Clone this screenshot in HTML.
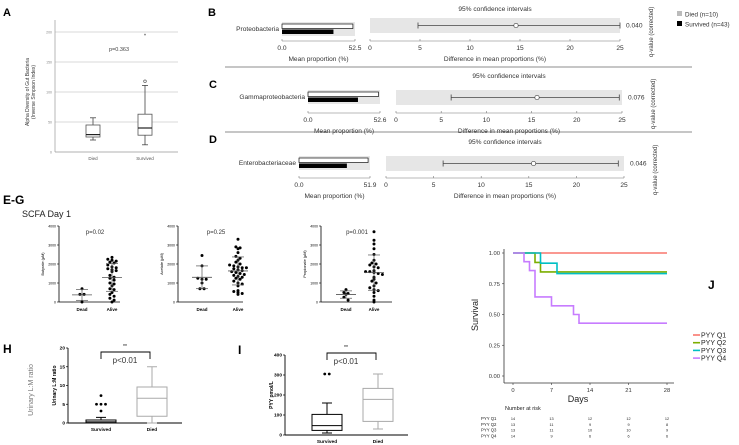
<!DOCTYPE html>
<html><head><meta charset="utf-8"><style>
html,body{margin:0;padding:0;background:#fff}
svg{display:block;font-family:"Liberation Sans",Arial,sans-serif}
</style></head><body>
<svg id="fig" width="739" height="445" viewBox="0 0 739 445" xmlns="http://www.w3.org/2000/svg"></svg>
<script>
// ---------- data ----------
const boxA_groups = ["Died","Survived"];
const boxA_stats = [[20,25,29,45,57],[12,28,40,63,111]];
const boxA_outliers = [[],[118]];
const boxA_extreme = [[],[194]];
const boxA_ticks = [0,50,100,150,200];

const taxa = ["Proteobacteria","Gammaproteobacteria","Enterobacteriaceae"];
const taxaMax = [52.5,52.6,51.9];
const diedMean = [51,51.5,50.5];
const survMean = [37,36.5,35];
const ciLow = [4.8,6.1,6.0];
const ciMid = [14.6,15.6,15.5];
const ciHigh = [25,24.7,24.4];
const qValues = ["0.040","0.076","0.046"];
const ciTicks = [0,5,10,15,20,25];

const butDead = [700,400,400,0];
const butAlive = [2350,2250,2200,2150,2100,2050,1950,1850,1800,1750,1700,1650,1600,1400,1300,1250,1150,1000,950,850,700,650,500,400,300,200,100,0];
const aceDead = [2450,1900,1250,1200,1200,1000,700,700];
const aceAlive = [3300,2900,2850,2800,2600,2400,2300,2200,2100,2000,1950,1900,1850,1800,1800,1750,1700,1650,1600,1550,1500,1450,1400,1350,1300,1250,1200,1100,1000,950,850,600,550,500,450,400];
const proDead = [650,500,450,400,250,100];
const proAlive = [3700,3250,3050,2800,2500,2200,2050,2000,1950,1850,1800,1650,1600,1600,1550,1500,1450,1300,1200,1100,1000,850,750,650,600,500,300,100,0];
const scfaTicks = [0,1000,2000,3000,4000];

const hGroups = ["Survived","Died"];
const hStats = [[0,0,0.3,0.8,1.5],[0,1.8,6.6,9.6,15]];
const hOutliers = [[3.2,5,5,5,7.3],[]];
const hTicks = [0,5,10,15,20];
const iStats = [[10,23,47,103,160],[30,68,178,233,305]];
const iOutliers = [[305,305],[]];
const iTicks = [0,100,200,300,400];

const kmNames = ["PYY Q1","PYY Q2","PYY Q3","PYY Q4"];
const kmColors = ["#F8766D","#7CAE00","#00BFC4","#C77CFF"];
const kmTimes = [[0,28],[0,4,5,28],[0,5,8,28],[0,2,3,4,7,11,12,28]];
const kmSurv = [[1,1],[1,0.923,0.846,0.846],[1,0.917,0.833,0.833],[1,0.929,0.857,0.643,0.571,0.5,0.429,0.429]];
const kmDays = [0,7,14,21,28];
const kmYTicks = [0,0.25,0.5,0.75,1];
const atRisk = [[14,13,12,12,12],[13,11,9,9,8],[13,11,10,10,9],[14,9,6,6,6]];

// ---------- helpers ----------
const svg = document.getElementById('fig');
const NS = "http://www.w3.org/2000/svg";
function el(tag, attrs, parent){const e=document.createElementNS(NS,tag);for(const k in attrs)e.setAttribute(k,attrs[k]);(parent||svg).appendChild(e);return e;}
function txt(x,y,s,size,opts,parent){const o=Object.assign({x:x,y:y,'font-size':size,fill:'#222'},opts||{});const t=el('text',o,parent);t.textContent=s;return t;}
function lin(d0,d1,r0,r1){return v=>r0+(v-d0)/(d1-d0)*(r1-r0);}
function mean(a){return a.reduce((s,v)=>s+v,0)/a.length;}
function sd(a){const m=mean(a);return Math.sqrt(a.reduce((s,v)=>s+(v-m)*(v-m),0)/(a.length-1));}

// ---------- Panel A ----------
(function(){
  const g=el('g',{});
  
  const lab=txt(3,16,"A",11,{'font-weight':'bold',fill:'#000'},g);
  
  const y=lin(0,200,152,32), x0=55, x1=178, xs=[93,145];
  boxA_ticks.forEach(t=>{
    if(t>0){const l=el('line',{x1:x0,x2:x1,y1:y(t),y2:y(t),stroke:'#ccc','stroke-width':0.7},g);
      }
    const tl=txt(x0-3,y(t)+1.5,String(t),3.5,{'text-anchor':'end',fill:'#888'},g);
    
  });
  el('line',{x1:x0,x2:x0,y1:20,y2:152,stroke:'#999','stroke-width':0.7},g);
  el('line',{x1:x0,x2:x1,y1:152,y2:152,stroke:'#999','stroke-width':0.7},g);
  boxA_stats.forEach((s,i)=>{
    const cx=xs[i],w=7;
    const b=el('g',{},g);
    
    el('line',{x1:cx,x2:cx,y1:y(s[0]),y2:y(s[4]),stroke:'#444','stroke-width':0.8},b);
    el('line',{x1:cx-3,x2:cx+3,y1:y(s[0]),y2:y(s[0]),stroke:'#444','stroke-width':0.8},b);
    el('line',{x1:cx-3,x2:cx+3,y1:y(s[4]),y2:y(s[4]),stroke:'#444','stroke-width':0.8},b);
    el('rect',{x:cx-w,y:y(s[3]),width:2*w,height:y(s[1])-y(s[3]),fill:'#fff',stroke:'#555','stroke-width':0.8},b);
    el('line',{x1:cx-w,x2:cx+w,y1:y(s[2]),y2:y(s[2]),stroke:'#222','stroke-width':1.2},b);
    boxA_outliers[i].forEach(v=>el('circle',{cx:cx,cy:y(v),r:1.3,fill:'none',stroke:'#444','stroke-width':0.6},b));
    boxA_extreme[i].forEach(v=>txt(cx,y(v)+2,"*",5,{'text-anchor':'middle'},b));
    const xl=txt(cx,160,boxA_groups[i],4.5,{'text-anchor':'middle',fill:'#555'},g);
    
  });
  const p=txt(119,51,"p=0.363",5.5,{'text-anchor':'middle',fill:'#444'},g);
  
  const yt=txt(0,0,"Alpha Diversity of Gut Bacteria",5,{transform:'translate(29,92) rotate(-90)','text-anchor':'middle',fill:'#333'},g);
  
  const yt2=txt(0,0,"(Inverse Simpson Index)",5,{transform:'translate(35,92) rotate(-90)','text-anchor':'middle',fill:'#333'},g);
  
})();

// ---------- Panels B-D ----------
(function(){
  const rows=[
    {L:"B",ly:6,lbl:279,bx0:282,bx1:355,by:22,ax:41,ci0:370,ci1:620,cy:18,top:9},
    {L:"C",ly:78,lbl:305,bx0:308,bx1:380,by:90,ax:113,ci0:396,ci1:622,cy:90,top:76},
    {L:"D",ly:133,lbl:296,bx0:299,bx1:370,by:156,ax:178,ci0:386,ci1:624,cy:156,top:142}];
  const FS=6.6;
  rows.forEach((r,i)=>{
    const g=el('g',{});
    
    const lab=txt(r.L==="B"?208:209,r.ly+10,r.L,11,{'font-weight':'bold',fill:'#000'},g);
    
    const tn=txt(r.lbl,r.by+9,taxa[i],FS,{'text-anchor':'end',fill:'#333'},g);
    
    const xb=lin(0,taxaMax[i],r.bx0,r.bx1);
    el('rect',{x:r.bx0,y:r.by,width:r.bx1-r.bx0,height:14,fill:'#e6e6e6'},g);
    const wb=el('rect',{x:r.bx0,y:r.by+2,width:xb(diedMean[i])-r.bx0,height:4.5,fill:'#fff',stroke:'#111','stroke-width':0.7},g);
    
    const bb=el('rect',{x:r.bx0,y:r.by+7.5,width:xb(survMean[i])-r.bx0,height:4.5,fill:'#000'},g);
    
    el('line',{x1:r.bx0,x2:r.bx1,y1:r.ax,y2:r.ax,stroke:'#777','stroke-width':0.6},g);
    [0,taxaMax[i]].forEach((v,k)=>{
      el('line',{x1:xb(v),x2:xb(v),y1:r.ax,y2:r.ax-2,stroke:'#777','stroke-width':0.6},g);
      const t=txt(xb(v),r.ax+9,k?v.toFixed(1):"0.0",FS,{'text-anchor':'middle',fill:'#333'},g);
      
    });
    const mp=txt((r.bx0+r.bx1)/2,r.ax+20,"Mean proportion (%)",FS,{'text-anchor':'middle',fill:'#333'},g);
    
    const xc=lin(0,25,r.ci0,r.ci1);
    el('rect',{x:r.ci0,y:r.cy,width:r.ci1-r.ci0,height:15,fill:'#e6e6e6'},g);
    const ym=r.cy+7.5;
    const eb=el('g',{},g);
    
    el('line',{x1:xc(ciLow[i]),x2:xc(ciHigh[i]),y1:ym,y2:ym,stroke:'#444','stroke-width':0.8},eb);
    [ciLow[i],ciHigh[i]].forEach(v=>el('line',{x1:xc(v),x2:xc(v),y1:ym-3,y2:ym+3,stroke:'#444','stroke-width':0.8},eb));
    el('circle',{cx:xc(ciMid[i]),cy:ym,r:2.2,fill:'#fff',stroke:'#444','stroke-width':0.7},eb);
    el('line',{x1:r.ci0,x2:r.ci1,y1:r.ax,y2:r.ax,stroke:'#777','stroke-width':0.6},g);
    ciTicks.forEach(t=>{
      el('line',{x1:xc(t),x2:xc(t),y1:r.ax,y2:r.ax-2,stroke:'#777','stroke-width':0.6},g);
      const tl=txt(xc(t),r.ax+9,String(t),FS,{'text-anchor':'middle',fill:'#333'},g);
      
    });
    const dt=txt((r.ci0+r.ci1)/2,r.ax+20,"Difference in mean proportions (%)",FS,{'text-anchor':'middle',fill:'#333'},g);
    
    const ct=txt((r.ci0+r.ci1)/2,r.top+2,"95% confidence intervals",FS,{'text-anchor':'middle',fill:'#333'},g);
    
    const q=txt(r.ci1+6,ym+2,qValues[i],FS,{fill:'#333'},g);
    
    const qt=txt(0,0,"q-value (corrected)",6,{transform:'translate('+(r.ci1+33)+','+(r.cy+39)+') rotate(-90)',fill:'#333'},g);
    
  });
  [67,132].forEach(yy=>{const l=el('line',{x1:225,x2:692,y1:yy,y2:yy,stroke:'#666','stroke-width':0.7});
    });
  const lg=el('g',{});
  
  el('rect',{x:677,y:11,width:5,height:5,fill:'#bbb'},lg);
  const l1=txt(685,16.5,"Died (n=10)",6.3,{fill:'#333'},lg);
  
  el('rect',{x:677,y:21,width:5,height:5,fill:'#000'},lg);
  const l2=txt(685,26.5,"Survived (n=43)",6.3,{fill:'#333'},lg);
  
})();

// ---------- Panels E-G ----------
const eg=txt(3,204,"E-G",12,{'font-weight':'bold',fill:'#000'});

const scfa=txt(22,217,"SCFA Day 1",9,{fill:'#222'});

function scatter(name,ax,xEnd,xd,xa,dead,alive,pstr,px,ytitle){
  const g=el('g',{});
  
  const y=lin(0,4000,302,226);
  el('line',{x1:ax,x2:ax,y1:226,y2:302,stroke:'#000','stroke-width':0.8},g);
  el('line',{x1:ax,x2:xEnd,y1:302,y2:302,stroke:'#000','stroke-width':0.8},g);
  scfaTicks.forEach(t=>{
    el('line',{x1:ax-2,x2:ax,y1:y(t),y2:y(t),stroke:'#000','stroke-width':0.6},g);
    const tl=txt(ax-3,y(t)+1.3,String(t),3.5,{'text-anchor':'end',fill:'#000'},g);
    
  });
  [[dead,xd,"Dead"],[alive,xa,"Alive"]].forEach(([arr,cx,lab])=>{
    const bins={};
    arr.forEach(v=>{const k=Math.round(v/170);(bins[k]=bins[k]||[]).push(v);});
    Object.keys(bins).forEach(k=>{
      const b=bins[k];
      b.forEach((v,j)=>{
        const c=el('circle',{cx:cx+(j-(b.length-1)/2)*4.2,cy:y(v),r:1.5,fill:'#000'},g);
        
        
      });
    });
    const m=mean(arr),s=sd(arr);
    const sg=el('g',{},g);
    
    el('line',{x1:cx-10,x2:cx+10,y1:y(m),y2:y(m),stroke:'#555','stroke-width':0.8},sg);
    el('line',{x1:cx,x2:cx,y1:y(Math.max(0,m-s)),y2:y(m+s),stroke:'#555','stroke-width':0.7},sg);
    el('line',{x1:cx-6,x2:cx+6,y1:y(m+s),y2:y(m+s),stroke:'#555','stroke-width':0.7},sg);
    el('line',{x1:cx-6,x2:cx+6,y1:y(Math.max(0,m-s)),y2:y(Math.max(0,m-s)),stroke:'#555','stroke-width':0.7},sg);
    const xl=txt(cx,311,lab,4.5,{'text-anchor':'middle','font-weight':'bold',fill:'#000'},g);
    
  });
  const p=txt(px,234,pstr,6,{'text-anchor':'middle',fill:'#333'},g);
  
  const yt=txt(0,0,ytitle,3.8,{transform:'translate('+(ax-15)+',264) rotate(-90)','text-anchor':'middle',fill:'#000'},g);
  
}
scatter('panel-e-butyrate',59,120,82,112,butDead,butAlive,"p=0.02",95,"Butyrate (µM)");
scatter('panel-f-acetate',178,243,202,238,aceDead,aceAlive,"p=0.25",216,"Acetate (µM)");
scatter('panel-g-propionate',321,392,346,374,proDead,proAlive,"p=0.001",357,"Propionate (µM)");

// ---------- Panels H & I ----------
function boxPanel(name,L,lx,ly,ax,xEnd,yTop,yBot,ticks,stats,outl,xs,ytitle,bracketY,starsX){
  const g=el('g',{});
  
  const lab=txt(lx,ly,L,12,{'font-weight':'bold',fill:'#000'},g);
  
  const y=lin(ticks[0],ticks[ticks.length-1],yBot,yTop);
  el('line',{x1:ax,x2:ax,y1:yTop,y2:yBot,stroke:'#000','stroke-width':0.9},g);
  el('line',{x1:ax,x2:xEnd,y1:yBot,y2:yBot,stroke:'#000','stroke-width':0.9},g);
  ticks.forEach(t=>{
    el('line',{x1:ax-2,x2:ax,y1:y(t),y2:y(t),stroke:'#000','stroke-width':0.7},g);
    const tl=txt(ax-3,y(t)+1.7,String(t),4.8,{'text-anchor':'end','font-weight':'bold',fill:'#000'},g);
    
  });
  const cols=['#000','#aaa'];
  stats.forEach((s,i)=>{
    const cx=xs[i],w=15,c=cols[i];
    const b=el('g',{},g);
    
    el('line',{x1:cx,x2:cx,y1:y(s[0]),y2:y(s[4]),stroke:c,'stroke-width':1},b);
    el('line',{x1:cx-5,x2:cx+5,y1:y(s[0]),y2:y(s[0]),stroke:c,'stroke-width':1},b);
    el('line',{x1:cx-5,x2:cx+5,y1:y(s[4]),y2:y(s[4]),stroke:c,'stroke-width':1},b);
    el('rect',{x:cx-w,y:y(s[3]),width:2*w,height:Math.max(0.5,y(s[1])-y(s[3])),fill:'#fff',stroke:c,'stroke-width':1},b);
    el('line',{x1:cx-w,x2:cx+w,y1:y(s[2]),y2:y(s[2]),stroke:c,'stroke-width':1},b);
    const bins={};
    outl[i].forEach(v=>{(bins[v]=bins[v]||[]).push(v);});
    Object.keys(bins).forEach(k=>bins[k].forEach((v,j)=>{
      const d=el('circle',{cx:cx+(j-(bins[k].length-1)/2)*4.5,cy:y(v),r:1.4,fill:'#000'},b);
      
    }));
    const xl=txt(cx,yBot+8,hGroups[i],4.8,{'text-anchor':'middle','font-weight':'bold',fill:'#000'},g);
    
  });
  const br=el('path',{d:'M'+xs[0]+','+(bracketY+7)+'V'+bracketY+'H'+(xs[1]-2)+'V'+(bracketY+7),fill:'none',stroke:'#000','stroke-width':0.9},g);
  
  const st=txt(starsX,bracketY-4,"**",5,{'text-anchor':'middle',fill:'#000'},g);
  
  const pv=txt(starsX,bracketY+11,"p<0.01",8,{'text-anchor':'middle',fill:'#333'},g);
  
  const yt=txt(0,0,ytitle,5,{transform:'translate('+(ax-12)+','+((yTop+yBot)/2)+') rotate(-90)','text-anchor':'middle','font-weight':'bold',fill:'#000'},g);
  
}
boxPanel('panel-h-lm-ratio',"H",3,353,68,182,348,423,hTicks,hStats,hOutliers,[101,152],"Urinary L:M ratio",352,125);
boxPanel('panel-i-pyy',"I",238,354,285,408,355,435,iTicks,iStats,iOutliers,[327,378],"PYY pmol/L",353,346);
const hBig=txt(0,0,"Urinary L:M ratio",7,{transform:'translate(33,390) rotate(-90)','text-anchor':'middle',fill:'#777'});


// ---------- Panel J ----------
(function(){
  const g=el('g',{});
  
  const lab=txt(708,289,"J",12,{'font-weight':'bold',fill:'#000'},g);
  
  const x=lin(0,28,513,667), y=lin(0,1,376,253);
  el('line',{x1:504,x2:504,y1:249,y2:383,stroke:'#333','stroke-width':0.8},g);
  el('line',{x1:504,x2:674,y1:383,y2:383,stroke:'#333','stroke-width':0.8},g);
  kmYTicks.forEach(t=>{
    el('line',{x1:502,x2:504,y1:y(t),y2:y(t),stroke:'#333','stroke-width':0.6},g);
    const tl=txt(500,y(t)+2,t.toFixed(2),5.8,{'text-anchor':'end',fill:'#333'},g);
    
  });
  kmDays.forEach(d=>{
    el('line',{x1:x(d),x2:x(d),y1:383,y2:385,stroke:'#333','stroke-width':0.6},g);
    const tl=txt(x(d),392,String(d),5.8,{'text-anchor':'middle',fill:'#333'},g);
    
  });
  const xt=txt(578,402,"Days",9,{'text-anchor':'middle',fill:'#222'},g);
  
  const yt=txt(0,0,"Survival",9,{transform:'translate(478,315) rotate(-90)','text-anchor':'middle',fill:'#222'},g);
  
  kmTimes.forEach((ts,i)=>{
    let d='M'+x(ts[0])+','+y(kmSurv[i][0]);
    for(let k=1;k<ts.length;k++){d+='H'+x(ts[k])+'V'+y(kmSurv[i][k]);}
    const p=el('path',{d:d,fill:'none',stroke:kmColors[i],'stroke-width':1.6},g);
    
    const ly=335+i*7.7;
    el('line',{x1:693,x2:700,y1:ly,y2:ly,stroke:kmColors[i],'stroke-width':1.6},g);
    const lt=txt(701,ly+2.5,kmNames[i],7,{fill:'#222'},g);
    
  });
  const nr=txt(505,410,"Number at risk",5.5,{fill:'#222'},g);
  
  atRisk.forEach((row,i)=>{
    const ry=420+i*5.8;
    const rl=txt(481,ry,kmNames[i],4.3,{fill:'#222'},g);
    
    row.forEach((n,k)=>{
      const c=txt(x(kmDays[k]),ry,String(n),3.8,{'text-anchor':'middle',fill:'#222'},g);
      
    });
  });
})();
</script>
</body></html>
